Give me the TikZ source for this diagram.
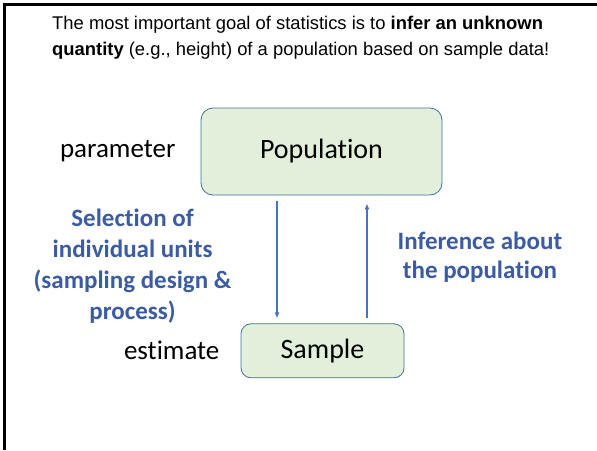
\documentclass[tikz,border=0pt]{standalone}
\usepackage{fontspec}
\setmainfont{Carlito}[Ligatures=NoCommon]
\newfontfamily\headfont{Liberation Sans}
\definecolor{boxgreen}{HTML}{E2EFDA}
\definecolor{boxline}{HTML}{41719C}
\definecolor{arrowblue}{HTML}{4472C4}
\definecolor{labelblue}{HTML}{3B5CA3}
\usetikzlibrary{arrows.meta, positioning}

\begin{document}
\begin{tikzpicture}[x=1pt, y=-1pt, node distance=25pt]
      \useasboundingbox (0,0) rectangle (597,450);
      % slide frame
      \draw[line width=3pt] (4.5,450) -- (4.5,4.5) -- (597,4.5);
      \node[anchor=north west, align=left, inner sep=0pt, font=\headfont\fontsize{18.4}{26}\selectfont] (head) at (52,16)
            {The most important goal of statistics is to \textbf{infer an unknown}\\
             \textbf{quantity} (e.g., height) of a population based on sample data!};
      \node[draw=boxline, fill=boxgreen, rounded corners=12pt, line width=0.8pt,
            minimum width=241pt, minimum height=87pt, font=\fontsize{28}{32}\selectfont] (pop)
            at (321.5,151.5) {\raisebox{-2pt}{Population}};
      \node[draw=boxline, fill=boxgreen, rounded corners=10pt, line width=0.8pt,
            minimum width=163pt, minimum height=54pt, font=\fontsize{28}{32}\selectfont,
            below=128pt of pop, xshift=1pt] (samp) {Sample};
      \node[left=of pop, inner sep=0pt, font=\fontsize{27}{31}\selectfont] (par) {parameter};
      \node[left=21pt of samp, inner sep=0pt, font=\fontsize{27}{31}\selectfont] (est) {estimate};
      \draw[-{Latex[length=6pt, width=5pt]}, line width=1.2pt, color=arrowblue,
            shorten <=6pt, shorten >=5pt]
        ([xshift=-44.5pt]pop.south) -- ([xshift=-44.5pt]pop.south |- samp.north)
        node[midway, left=45pt, align=center, text=labelblue, inner sep=0pt,
             font=\bfseries\fontsize{25}{31}\selectfont, yshift=-7pt]
        {Selection of\\individual units\\(sampling design \&\\process)};
      \draw[-{Latex[length=6pt, width=5pt]}, line width=1.2pt, color=arrowblue,
            shorten <=5pt, shorten >=8pt]
        ([xshift=45.5pt]pop.south |- samp.north) -- ([xshift=45.5pt]pop.south)
        node[midway, right=30pt, align=center, text=labelblue, inner sep=0pt,
             font=\bfseries\fontsize{25}{29}\selectfont, yshift=2pt]
        {Inference about\\the population};
\end{tikzpicture}
\end{document}
